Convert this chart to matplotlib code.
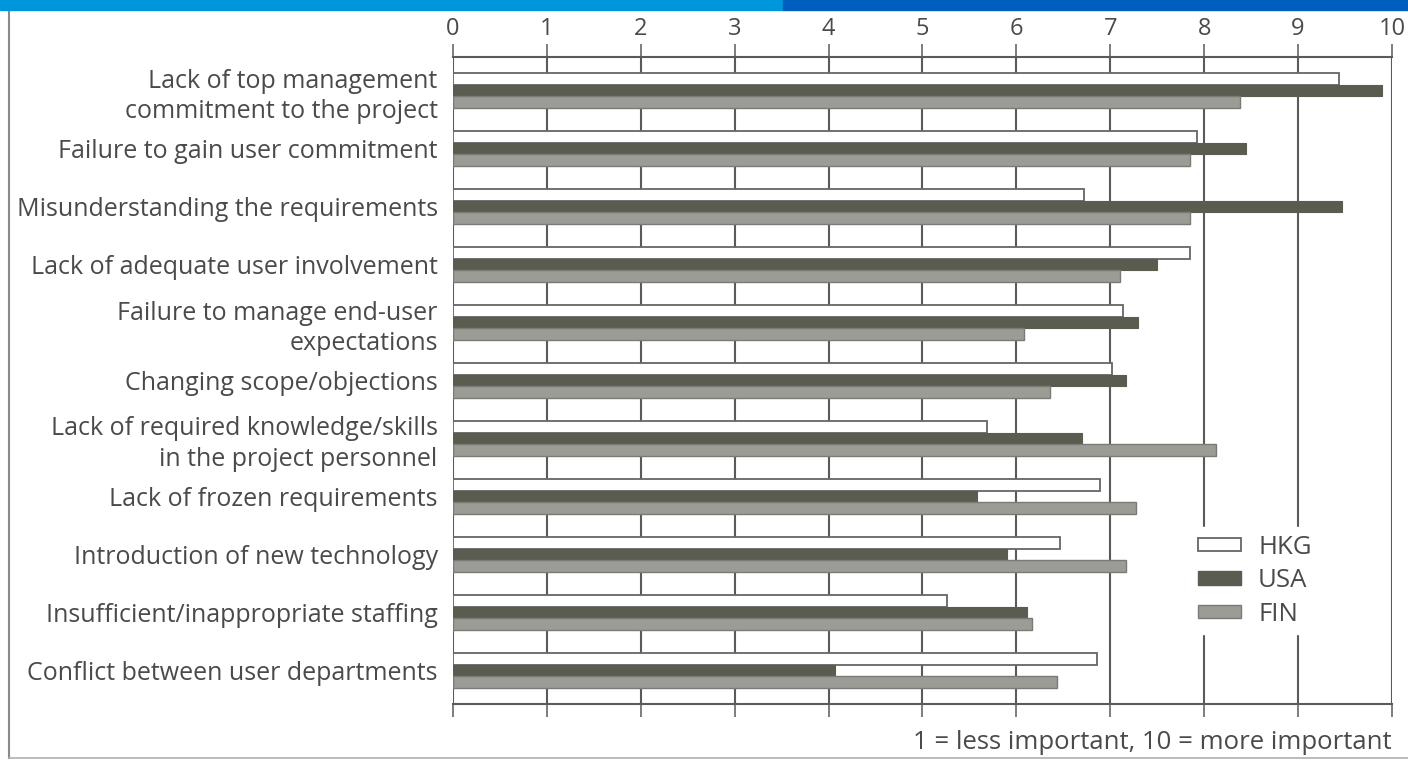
import numpy as np
import matplotlib.pyplot as plt
from matplotlib.patches import Patch, Rectangle
from matplotlib.lines import Line2D

factores = ['Lack of top management\ncommitment to the project',
            'Failure to gain user commitment',
            'Misunderstanding the requirements',
            'Lack of adequate user involvement',
            'Failure to manage end-user\nexpectations',
            'Changing scope/objections',
            'Lack of required knowledge/skills\nin the project personnel',
            'Lack of frozen requirements',
            'Introduction of new technology',
            'Insufficient/inappropriate staffing',
            'Conflict between user departments']

hkg = [9.44, 7.92, 6.72, 7.85, 7.14, 7.02, 5.69, 6.89, 6.46, 5.26, 6.86]
usa = [9.89, 8.45, 9.47, 7.50, 7.30, 7.17, 6.70, 5.58, 5.90, 6.11, 4.07]
fin = [8.38, 7.85, 7.85, 7.10, 6.08, 6.36, 8.13, 7.27, 7.17, 6.17, 6.43]

plt.rcParams['font.family'] = ['Open Sans', 'DejaVu Sans']
texto = '#4a4a4a'
linea = '#5a5a5a'

fig = plt.figure(figsize=(14.08, 7.61), dpi=100)
ax = fig.add_axes([453/1408, 57/761, 939/1408, 647/761])

y = np.arange(len(factores))
h = 0.2
ax.barh(y - h, hkg, height=h, color='white', edgecolor='#666666', linewidth=1.3, zorder=3, label='HKG')
ax.barh(y, usa, height=h, color='#5a5c50', edgecolor='#5a5c50', linewidth=0.8, zorder=3, label='USA')
ax.barh(y + h, fin, height=h, color='#9b9c96', edgecolor='#7a7b75', linewidth=1.0, zorder=3, label='FIN')

ax.set_xlim(0, 10)
ax.set_ylim(10.58, -0.58)
ax.set_xticks(range(11))
ax.grid(axis='x', color=linea, linewidth=1.5, zorder=0)
ax.set_axisbelow(True)

ax.xaxis.set_ticks_position('both')
ax.tick_params(axis='x', top=True, bottom=True, labeltop=True, labelbottom=False,
               direction='out', length=9.5, width=1.1, color=linea,
               labelsize=17, labelcolor=texto, pad=2)

ax.set_yticks(y)
ax.set_yticklabels(factores, fontsize=18, color=texto, linespacing=1.3)
ax.tick_params(axis='y', length=0, pad=11)

for lado in ['left', 'right']:
    ax.spines[lado].set_visible(False)
for lado in ['top', 'bottom']:
    ax.spines[lado].set_color(linea)
    ax.spines[lado].set_linewidth(1.5)

manijas = [Patch(facecolor='white', edgecolor='#666666', linewidth=1.3),
           Patch(facecolor='#5a5c50', edgecolor='#5a5c50'),
           Patch(facecolor='#9b9c96', edgecolor='#7a7b75')]
leg = ax.legend(manijas, ['HKG', 'USA', 'FIN'], loc='upper left',
                bbox_to_anchor=(1190/1408, 1 - 527/761), bbox_transform=fig.transFigure,
                fontsize=18.5, frameon=True, fancybox=False, framealpha=1,
                handlelength=1.7, handleheight=0.45, handletextpad=0.65,
                labelspacing=0.33, borderpad=0.3, borderaxespad=0)
leg.get_frame().set_edgecolor('white')
leg.set_zorder(5)
for t in leg.get_texts():
    t.set_color(texto)

ax.text(10, -0.04, '1 = less important, 10 = more important', transform=ax.get_xaxis_transform(),
        ha='right', va='top', fontsize=18.5, color=texto)

# franja azul superior y borde de la pagina
fig.add_artist(Rectangle((0, 1 - 9.5/761), 783/1408, 9.5/761, transform=fig.transFigure,
                         color='#0096dc', zorder=10))
fig.add_artist(Rectangle((783/1408, 1 - 9.5/761), 1 - 783/1408, 9.5/761, transform=fig.transFigure,
                         color='#005ebe', zorder=10))
fig.add_artist(Line2D([8.5/1408, 8.5/1408], [1 - 10/761, 1 - 758/761], transform=fig.transFigure,
                      color='#8a8a8a', linewidth=1.5))
fig.add_artist(Line2D([8.5/1408, 1], [1 - 758/761, 1 - 758/761], transform=fig.transFigure,
                      color='#b0b0b0', linewidth=1.2))

plt.savefig('out.png', dpi=100)
